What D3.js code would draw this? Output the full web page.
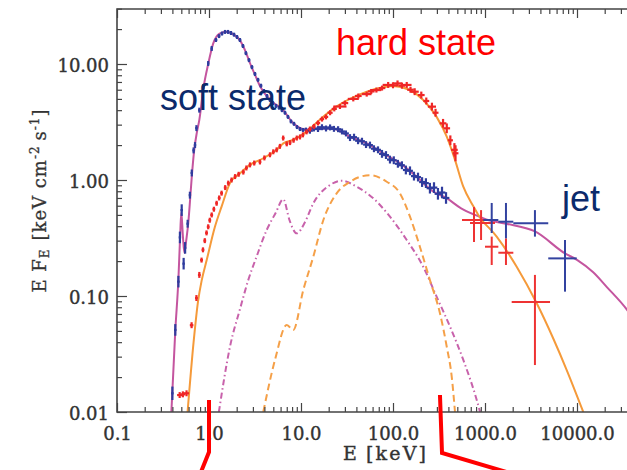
<!DOCTYPE html>
<html>
<head>
<meta charset="utf-8">
<script src="https://cdn.jsdelivr.net/npm/d3@7"></script>
<style>
  body { margin: 0; background: #fff; }
  svg { display: block; }
</style>
</head>
<body>
<div id="chart"></div>
<script>
// Model curves [E keV, E F_E]
const softModel = [[0.39,0.01],[0.43,0.05],[0.465,0.14],[0.485,0.32],[0.5,0.53],[0.52,0.33],[0.54,0.235],[0.565,0.30],[0.596,0.43],[0.625,0.7],[0.65,1.07],[0.69,1.8],[0.74,2.6],[0.785,3.3],[0.87,6.2],[0.98,10.0],[1.11,15.0],[1.3,18.3],[1.55,19.0],[1.85,18.0],[2.17,16.0],[2.5,12.8],[2.8,10.1],[3.2,7.9],[3.6,6.4],[4.6,4.9],[6.4,4.0],[8.2,3.1],[11.5,2.72],[16,2.78],[22,2.78],[34,2.36],[52,2.07],[78,1.70],[120,1.39],[180,1.07],[270,0.80],[380,0.70],[550,0.57],[780,0.50],[1100,0.45],[1700,0.42],[3500,0.36],[7400,0.233],[10000,0.205],[15000,0.16],[21000,0.12],[35000,0.076],[50000,0.05]];

const hardModel = [[0.585,0.01],[0.68,0.04],[0.76,0.09],[0.834,0.137],[0.944,0.204],[1.16,0.395],[1.37,0.59],[1.69,0.94],[2.17,1.14],[2.79,1.35],[3.89,1.54],[5.44,1.82],[6.42,2.07],[8,2.2],[11.5,2.6],[16,3.3],[22.3,4.1],[34,5.0],[52,5.77],[78,6.29],[100,6.46],[150,6.0],[213,4.9],[298,3.5],[384,2.36],[472,1.49],[581,0.875],[750,0.59],[846,0.5],[1340,0.325],[2210,0.179],[3650,0.0865],[5520,0.043],[7730,0.023],[11700,0.01]];

const reflSoft = [[1.28,0.01],[1.69,0.0365],[2.2,0.08],[2.67,0.137],[3.3,0.22],[4.24,0.371],[5.3,0.52],[6.42,0.683],[7.5,0.45],[8.98,0.347],[11,0.43],[13.6,0.629],[20.7,0.906],[27.7,0.987],[40.3,0.875],[61.1,0.695],[92.7,0.483],[141,0.304],[213,0.179],[298,0.0986],[417,0.0543],[581,0.0281],[813,0.0127],[884,0.01]];

const reflHard = [[3.89,0.01],[5.21,0.0281],[7.0,0.0562],[8.24,0.0509],[10.6,0.113],[13.6,0.218],[17.5,0.452],[24.4,0.767],[34.1,0.966],[56.2,1.10],[85.5,0.966],[119,0.767],[153,0.483],[196,0.266],[252,0.137],[324,0.0709],[384,0.0365],[435,0.0201],[472,0.01]];

// Data points [E, F, fractional E error, fractional F error]
const softData = [
  [0.40,0.0145,0.005,0.12],[0.43,0.051,0.005,0.1],[0.465,0.133,0.005,0.1],[0.483,0.32,0.005,0.1],[0.505,0.55,0.005,0.1],[0.53,0.19,0.005,0.1],[0.55,0.26,0.005,0.1],[0.586,0.42,0.005,0.06],[0.62,0.74,0.005,0.05],[0.65,1.15,0.005,0.05],[0.68,1.8,0.005,0.04],[0.705,2.0,0.005,0.04],[0.73,2.8,0.005,0.04],[0.785,4.0,0.005,0.03],[0.87,6.4,0.005,0.03],[0.98,10.1,0.005,0.03],[1.07,13.6,0.005,0.03],
  [1.19,16.1,0.01,0.02],[1.285,17.4,0.01,0.02],[1.384,18.3,0.01,0.02],[1.493,18.9,0.01,0.02],[1.61,18.9,0.01,0.02],[1.734,18.5,0.01,0.02],[1.87,17.9,0.01,0.02],[2.015,17.1,0.01,0.02],[2.17,16.1,0.01,0.02],[2.34,14.3,0.01,0.02],[2.52,12.4,0.01,0.02],[2.72,10.8,0.01,0.02],[2.93,9.4,0.01,0.02],[3.16,8.2,0.01,0.02],[3.41,7.3,0.01,0.02],[3.67,6.5,0.01,0.02],[3.96,5.85,0.01,0.02],[4.27,5.3,0.01,0.02],[4.6,4.9,0.01,0.02],[4.96,4.6,0.01,0.02],[5.35,4.35,0.01,0.02],[5.77,4.2,0.01,0.02],[6.21,4.0,0.01,0.02],[6.7,3.8,0.01,0.02],[7.22,3.5,0.01,0.02],[7.78,3.2,0.01,0.02],[8.39,3.05,0.01,0.02],[9.05,2.86,0.01,0.02],[9.75,2.75,0.01,0.02],[10.5,2.70,0.01,0.02],[11.3,2.72,0.01,0.02],
  [12.5,2.66,0.05,0.04],[13.8,2.78,0.05,0.04],[15.3,2.75,0.05,0.04],[16.9,2.85,0.05,0.04],[18.7,2.78,0.05,0.04],[20.7,2.84,0.05,0.04],[22.8,2.76,0.05,0.04],[25.3,2.74,0.05,0.04],[27.9,2.62,0.05,0.04],[30.8,2.52,0.05,0.04],[34.1,2.32,0.05,0.05],[37.7,2.34,0.05,0.05],[41.7,2.18,0.05,0.05],[46.0,2.16,0.05,0.05],[50.9,2.02,0.05,0.05],[56.2,2.0,0.05,0.05],[62.1,1.86,0.05,0.05],[68.7,1.82,0.05,0.05],[75.9,1.68,0.05,0.06],[83.9,1.64,0.05,0.06],[92.7,1.50,0.05,0.06],[102,1.48,0.05,0.06],[113,1.38,0.05,0.06],[125,1.34,0.05,0.06],[138,1.22,0.05,0.07],[153,1.20,0.05,0.07],[169,1.08,0.05,0.07],[187,1.06,0.05,0.07],[207,0.96,0.05,0.08],[228,0.94,0.05,0.08],[252,0.85,0.06,0.09],[279,0.86,0.06,0.09],[308,0.76,0.06,0.1],[341,0.78,0.06,0.1],[377,0.70,0.06,0.1]
];

const hardData = [
  [0.48,0.014,0.04,0.04],[0.52,0.0142,0.04,0.04],[0.57,0.0145,0.04,0.04],[0.647,0.056,0.02,0.04],[0.73,0.096,0.01,0.04],[0.785,0.152,0.01,0.04],[0.83,0.204,0.01,0.03],[0.86,0.25,0.01,0.03],[0.90,0.30,0.01,0.03],[0.94,0.35,0.01,0.03],[0.98,0.395,0.01,0.03],[1.02,0.45,0.01,0.03],[1.07,0.50,0.01,0.03],[1.13,0.56,0.01,0.03],[1.21,0.63,0.01,0.03],[1.29,0.70,0.01,0.03],[1.37,0.77,0.01,0.03],[1.5,0.86,0.01,0.03],[1.62,0.94,0.01,0.03],[1.76,1.0,0.01,0.03],[1.92,1.07,0.01,0.03],[2.1,1.12,0.01,0.03],[2.36,1.17,0.01,0.03],[2.55,1.27,0.01,0.03],[2.79,1.35,0.01,0.03],[3.1,1.40,0.01,0.03],[3.58,1.43,0.01,0.03],[4.0,1.55,0.01,0.03],[4.6,1.65,0.01,0.03],[5.0,1.75,0.01,0.03],[5.44,1.82,0.01,0.03],[5.9,1.95,0.01,0.03],[6.4,2.3,0.01,0.03],[7.0,2.05,0.01,0.03],[7.6,2.1,0.01,0.03],[8.3,2.2,0.01,0.03],[9.0,2.3,0.01,0.03],[9.75,2.35,0.01,0.03],[10.5,2.45,0.01,0.03],[11.5,2.6,0.02,0.03],[12.5,2.75,0.02,0.03],[13.8,2.9,0.02,0.03],[15.3,3.1,0.03,0.03],[16.9,3.35,0.03,0.03],[18.7,3.5,0.03,0.03],[20.7,3.8,0.04,0.03],[23,4.1,0.04,0.03],
  [26.5,4.3,0.15,0.03],[30,4.6,0.06,0.03],[37,5.0,0.12,0.03],[42,5.3,0.06,0.03],[51.8,5.5,0.1,0.03],[58,5.8,0.06,0.03],[66,5.96,0.1,0.03],[76,6.2,0.06,0.03],[88.6,6.6,0.12,0.04],[100,6.55,0.08,0.04],[112,6.8,0.1,0.04],[125,6.5,0.06,0.04],[141,6.6,0.1,0.04],[155,6.0,0.06,0.04],[172,5.77,0.08,0.05],[203,5.4,0.06,0.05],[230,4.8,0.05,0.05],[265,4.29,0.08,0.06],[290,3.8,0.05,0.06],[350,3.08,0.06,0.07],[384,2.79,0.06,0.08],[420,2.2,0.04,0.08],[465,1.82,0.06,0.12],[478,1.70,0.05,0.15]
];

// Large error crosses [E, Elo, Ehi, F, Flo, Fhi]
const hardHigh = [[759,562,1052,0.452,0.292,0.585],[906,687,1285,0.426,0.304,0.55],[1183,1000,1396,0.266,0.185,0.325],[1690,1396,2032,0.236,0.185,0.314],[3490,1950,5090,0.0887,0.0254,0.152]];
const jetData = [[1183,959,1396,0.452,0.349,0.634],[1690,1396,2032,0.437,0.314,0.634],[3490,2032,4870,0.424,0.325,0.55],[7410,4870,9930,0.211,0.109,0.304]];

const xMajor = [0.1, 1, 10, 100, 1000, 10000];
const yMajor = [0.01, 0.1, 1, 10];

const colors = {
  soft: '#c4559f', hard: '#f59a3a', softPts: '#2f3c9e', hardPts: '#ef2626',
  navy: '#0b2a6b', axis: '#444'
};

const W = 627, H = 470;
const plotLeft = 117, plotTop = 9, plotBottom = 412;

const x = d3.scaleLog().domain([0.1, 1e5]).range([plotLeft, plotLeft + 92 * 6]);
const y = d3.scaleLog().domain([0.01, 30]).range([plotBottom, plotBottom - 116 * Math.log10(3000)]);

const svg = d3.select('#chart').append('svg')
  .attr('width', W).attr('height', H);

svg.append('rect').attr('width', W).attr('height', H).attr('fill', '#fff');

svg.append('clipPath').attr('id', 'plot')
  .append('rect').attr('x', plotLeft).attr('y', plotTop)
  .attr('width', x.range()[1] - plotLeft).attr('height', plotBottom - plotTop);

const plot = svg.append('g').attr('clip-path', 'url(#plot)');

const line = d3.line().x(d => x(d[0])).y(d => y(d[1])).curve(d3.curveMonotoneX);

// dashed components
plot.append('path').datum(reflSoft).attr('d', line)
  .attr('fill', 'none').attr('stroke', '#c862ab').attr('stroke-width', 2)
  .attr('stroke-dasharray', '6,3,1.5,3');
plot.append('path').datum(reflHard).attr('d', line)
  .attr('fill', 'none').attr('stroke', '#f5a048').attr('stroke-width', 2)
  .attr('stroke-dasharray', '7,4');

// total models
plot.append('path').datum(softModel).attr('d', line)
  .attr('fill', 'none').attr('stroke', colors.soft).attr('stroke-width', 2);
plot.append('path').datum(hardModel).attr('d', line)
  .attr('fill', 'none').attr('stroke', colors.hard).attr('stroke-width', 2);

// data points with error bars
function drawPoints(data, color) {
  const g = plot.append('g').attr('stroke', color).attr('stroke-width', 2.2);
  data.forEach(d => {
    const [E, F, ex, ey] = d;
    g.append('line').attr('x1', x(E / (1 + ex)) - 1).attr('x2', x(E * (1 + ex)) + 1)
      .attr('y1', y(F)).attr('y2', y(F));
    g.append('line').attr('x1', x(E)).attr('x2', x(E))
      .attr('y1', y(F / (1 + ey)) + 1).attr('y2', y(F * (1 + ey)) - 1);
  });
}
drawPoints(softData, colors.softPts);
drawPoints(hardData, colors.hardPts);

function drawCrosses(data, color) {
  const g = plot.append('g').attr('stroke', color).attr('stroke-width', 2);
  data.forEach(d => {
    const [E, Elo, Ehi, F, Flo, Fhi] = d;
    g.append('line').attr('x1', x(Elo)).attr('x2', x(Ehi)).attr('y1', y(F)).attr('y2', y(F));
    g.append('line').attr('x1', x(E)).attr('x2', x(E)).attr('y1', y(Flo)).attr('y2', y(Fhi));
  });
}
drawCrosses(hardHigh, '#ee3333');
drawCrosses(jetData, '#3343a0');

// axes
const fontTick = 'DejaVu Serif, serif';

function minorTicks(scale) {
  return scale.ticks().filter(v => xMajor.concat(yMajor).indexOf(v) < 0);
}

const xAxisB = svg.append('g').attr('transform', `translate(0,${plotBottom})`)
  .call(d3.axisBottom(x).tickValues(xMajor).tickSize(-9).tickFormat(d => d.toFixed(1)));
svg.append('g').attr('transform', `translate(0,${plotBottom})`)
  .call(d3.axisBottom(x).tickValues(minorTicks(x)).tickSize(-5).tickFormat(''));
svg.append('g').attr('transform', `translate(0,${plotTop})`)
  .call(d3.axisTop(x).tickValues(xMajor).tickSize(-9).tickFormat(''));
svg.append('g').attr('transform', `translate(0,${plotTop})`)
  .call(d3.axisTop(x).tickValues(minorTicks(x)).tickSize(-5).tickFormat(''));

const yAxisL = svg.append('g').attr('transform', `translate(${plotLeft},0)`)
  .call(d3.axisLeft(y).tickValues(yMajor).tickSize(-10).tickFormat(d3.format('.2f')));
svg.append('g').attr('transform', `translate(${plotLeft},0)`)
  .call(d3.axisLeft(y).tickValues(minorTicks(y)).tickSize(-5).tickFormat(''));

svg.selectAll('.domain').remove();
svg.selectAll('.tick line').attr('stroke', colors.axis).attr('stroke-width', 1.2);

xAxisB.selectAll('text').attr('y', 28).attr('dy', 0)
  .attr('font-family', fontTick).attr('font-size', 18).attr('fill', '#333')
  .attr('stroke', '#333').attr('stroke-width', 0.4);
yAxisL.selectAll('text').attr('x', -8).attr('dy', '0.4em')
  .attr('font-family', fontTick).attr('font-size', 18).attr('fill', '#333')
  .attr('stroke', '#333').attr('stroke-width', 0.4);

// frame
svg.append('path')
  .attr('d', `M${W},${plotTop}H${plotLeft}V${plotBottom}H${W}`)
  .attr('fill', 'none').attr('stroke', colors.axis).attr('stroke-width', 1.6);

// axis titles
svg.append('text').attr('x', 343).attr('y', 460)
  .attr('font-family', fontTick).attr('font-size', 19).attr('fill', '#333')
  .attr('stroke', '#333').attr('stroke-width', 0.4).text('E');
svg.append('text').attr('x', 366).attr('y', 460)
  .attr('font-family', fontTick).attr('font-size', 19).attr('fill', '#333')
  .attr('stroke', '#333').attr('stroke-width', 0.4).attr('textLength', 60).text('[keV]');

const yt = svg.append('text').attr('transform', 'translate(46,201) rotate(-90)')
  .attr('text-anchor', 'middle').attr('font-family', fontTick).attr('font-size', 18)
  .attr('fill', '#333').attr('stroke', '#333').attr('stroke-width', 0.3)
  .attr('textLength', 183).attr('lengthAdjust', 'spacing');
yt.append('tspan').text('E F');
yt.append('tspan').attr('font-size', 12).attr('dy', 3).text('E');
yt.append('tspan').attr('dy', -3).attr('dx', 8).text('[keV cm');
yt.append('tspan').attr('font-size', 12).attr('dy', -7).text('-2');
yt.append('tspan').attr('dy', 7).attr('dx', 5).text('s');
yt.append('tspan').attr('font-size', 12).attr('dy', -7).text('-1');
yt.append('tspan').attr('dy', 7).text(']');

// state labels
const sans = 'Liberation Sans, Arial, sans-serif';
svg.append('text').attr('x', 160).attr('y', 110).attr('font-family', sans)
  .attr('font-size', 36).attr('fill', colors.navy).text('soft state');
svg.append('text').attr('x', 336).attr('y', 55).attr('font-family', sans)
  .attr('font-size', 36).attr('fill', '#ff0000').text('hard state');
svg.append('text').attr('x', 562).attr('y', 211).attr('font-family', sans)
  .attr('font-size', 36).attr('fill', colors.navy).text('jet');

// red pointer lines below the axis
const pointerLines = [
  [[1.0, 400], [1.0, 452], [0.818, 472]],
  [[324, 395], [341, 453], [2400, 476]]
];
pointerLines.forEach(p => {
  svg.append('path')
    .attr('d', d3.line().x(d => x(d[0])).y(d => d[1])(p))
    .attr('fill', 'none').attr('stroke', '#ff0000').attr('stroke-width', 4);
});
</script>
</body>
</html>
